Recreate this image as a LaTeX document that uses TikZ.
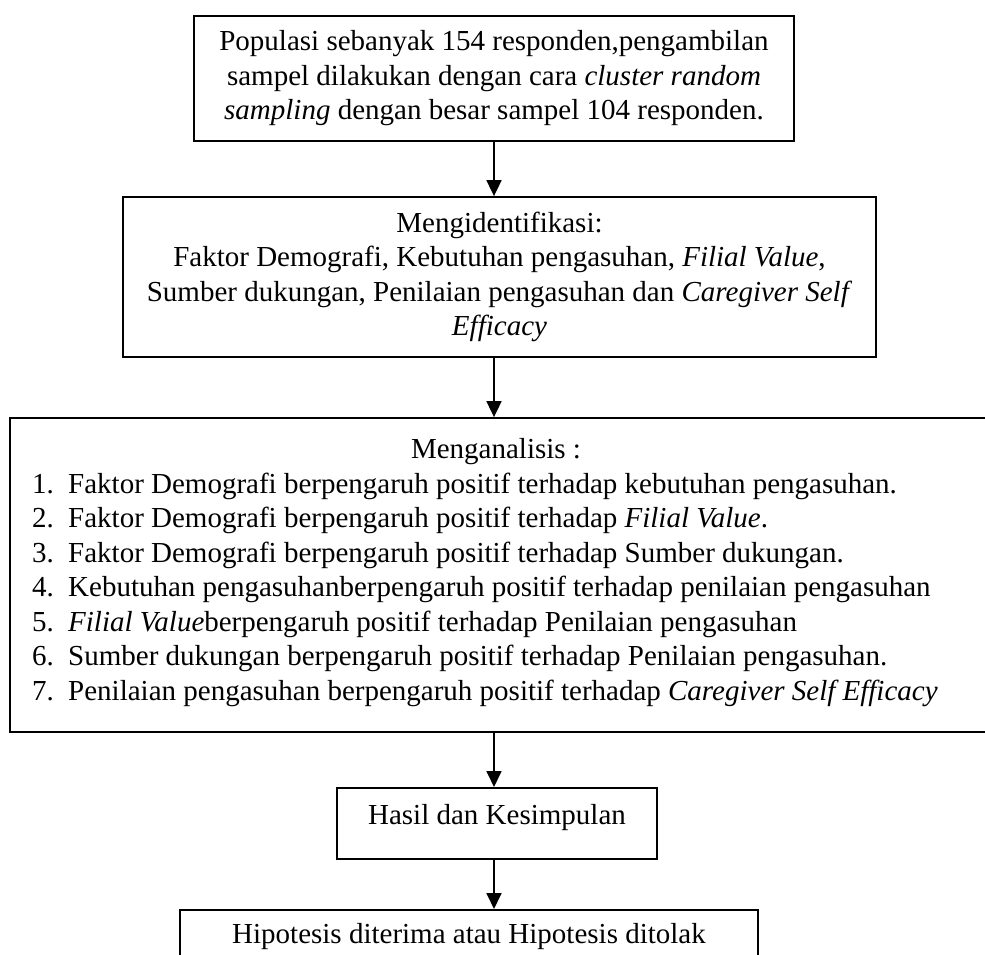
\documentclass[tikz,border=0pt]{standalone}
\usepackage{fontspec}
\setmainfont{Liberation Serif}
\usetikzlibrary{arrows.meta,positioning}

\tikzset{
  kotak/.style={draw, line width=1.8pt, inner sep=0pt},
  panah/.style={line width=1.8pt, -{Triangle[width=15pt,length=16pt]}},
  teks/.style={font=\fontsize{29}{34.5}\selectfont, inner sep=0pt}
}

\begin{document}
\begin{tikzpicture}[x=1pt,y=-1pt]
    \useasboundingbox (0,0) rectangle (985,954);
    % kotak-kotak alur
    \node[kotak, teks, align=center, minimum width=600pt, minimum height=125pt] (populasi) at (494,78.5)
        {Populasi sebanyak 154 responden,pengambilan\\ sampel dilakukan dengan cara \textit{cluster random}\\ \textit{sampling} dengan besar sampel 104 responden.};
    \node[kotak, teks, align=center, minimum width=753pt, minimum height=160pt] (identifikasi) at (499.5,277)
        {Mengidentifikasi:\\ Faktor Demografi, Kebutuhan pengasuhan, \textit{Filial Value},\\ Sumber dukungan, Penilaian pengasuhan dan \textit{Caregiver Self}\\ \textit{Efficacy}};
    \node[kotak, minimum width=1000pt, minimum height=314pt] (analisis) at (510,575) {};
    \node[teks, anchor=base] (judul) at (496,458.5) {Menganalisis :};
    \foreach \n/\isi in {1/{Faktor Demografi berpengaruh positif terhadap kebutuhan pengasuhan.},
                         2/{Faktor Demografi berpengaruh positif terhadap \textit{Filial Value}.},
                         3/{Faktor Demografi berpengaruh positif terhadap Sumber dukungan.},
                         4/{Kebutuhan pengasuhanberpengaruh positif terhadap penilaian pengasuhan},
                         5/{\textit{Filial Value}berpengaruh positif terhadap Penilaian pengasuhan},
                         6/{Sumber dukungan berpengaruh positif terhadap Penilaian pengasuhan.},
                         7/{Penilaian pengasuhan berpengaruh positif terhadap \textit{Caregiver Self Efficacy}}}
        \node[teks, anchor=base west] (butir\n) at (32,{493+34.5*(\n-1)}) {\makebox[36pt][l]{\n.}\isi};
    \node[kotak, teks, minimum width=320pt, text height=37pt, text depth=34pt, anchor=north] (hasil) at (497,787) {Hasil dan Kesimpulan};
    \node[kotak, teks, minimum width=578pt, text height=34pt, text depth=60pt, anchor=north] (hipotesis) at (469,909) {Hipotesis diterima atau Hipotesis ditolak};
    % panah
    \draw[panah] (populasi.south) -- (populasi.south |- identifikasi.north);
    \draw[panah] (identifikasi.south -| populasi) -- (analisis.north -| populasi);
    \draw[panah] (analisis.south -| populasi) -- (hasil.north -| populasi);
    \draw[panah] (hasil.south -| populasi) -- (hipotesis.north -| populasi);
\end{tikzpicture}
\end{document}
